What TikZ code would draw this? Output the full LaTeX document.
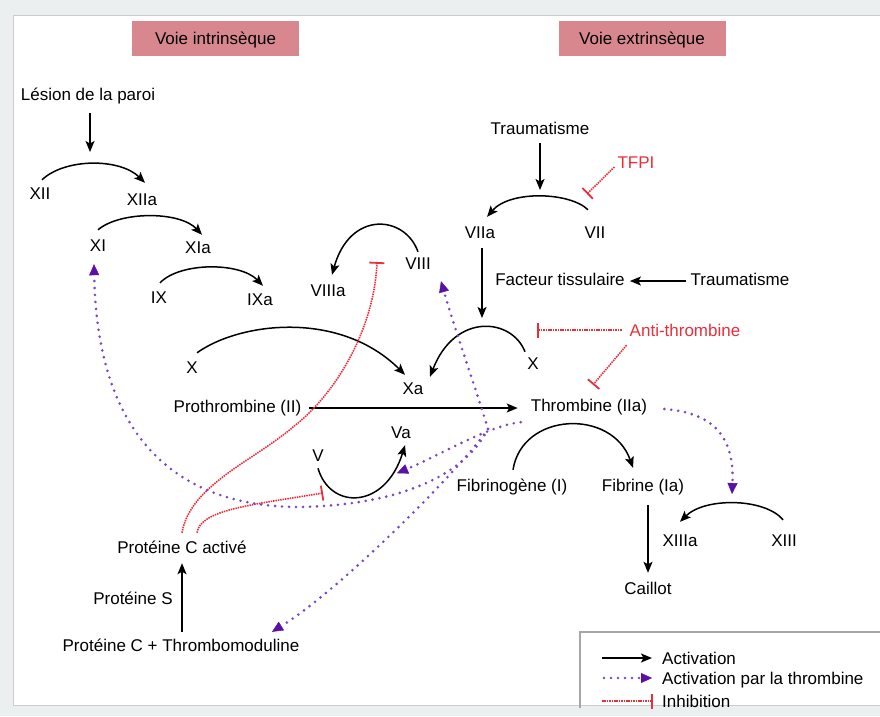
\documentclass[tikz,border=0pt]{standalone}
\usepackage{fontspec}
\setmainfont{Liberation Sans}
\usetikzlibrary{arrows.meta}
\definecolor{pinkbox}{RGB}{216,135,143}
\definecolor{inhred}{RGB}{232,48,58}
\definecolor{thrpur}{RGB}{120,70,200}
\definecolor{thrhead}{RGB}{90,15,165}
\definecolor{framebg}{RGB}{236,239,239}
\begin{document}
\begin{tikzpicture}[x=1pt,y=-1pt,
  lbl/.style={font=\fontsize{17}{20}\selectfont, inner sep=0pt, text height=13pt, text depth=1pt},
  redlbl/.style={lbl, text=inhred},
  titlebox/.style={lbl, fill=pinkbox, minimum width=167pt, minimum height=35pt},
  act/.style={line width=1.5pt, -{Stealth[length=11pt,width=9pt,inset=2.5pt]}},
  thr/.style={thrpur, line width=2.9pt, line cap=round, dash pattern=on 0pt off 7pt,
    -{Triangle[length=11pt,width=10pt,line width=0.4pt,color=thrhead]}},
  inh/.style={inhred, line width=1.6pt, dash pattern=on 1.5pt off 0.9pt,
    -{Bar[width=15pt,line width=1.8pt]}}]
\useasboundingbox (0,0) rectangle (880,716);
\fill[framebg] (0,0) rectangle (880,716);
\filldraw[fill=white, draw=gray!40, line width=0.8pt] (13,15) rectangle (886,705);

% titles
\node[titlebox] (vi) at (215.5,38.5) {Voie intrinsèque};
\node[titlebox] (ve) at (642,38.5) {Voie extrinsèque};

% intrinsic
\node[lbl] (lesion) at (88,94) {Lésion de la paroi};
\node[lbl] (xii) at (40,193) {XII};
\node[lbl] (xiia) at (142,199) {XIIa};
\node[lbl] (xi) at (98,245) {XI};
\node[lbl] (xia) at (198,247) {XIa};
\node[lbl] (ix) at (159,297) {IX};
\node[lbl] (ixa) at (260,299) {IXa};
\node[lbl] (viiia) at (328,290) {VIIIa};
\node[lbl] (viii) at (418,263) {VIII};
\node[lbl] (x1) at (192,367) {X};
\node[lbl] (xa) at (413,388) {Xa};
\node[lbl] (proth) at (237.5,406) {Prothrombine (II)};
\node[lbl] (thromb) at (589,405) {Thrombine (IIa)};
\node[lbl] (va) at (401,432) {Va};
\node[lbl] (v) at (318,455) {V};

% extrinsic
\node[lbl] (trauma1) at (540,128) {Traumatisme};
\node[redlbl] (tfpi) at (636,162) {TFPI};
\node[lbl] (viia) at (480,232) {VIIa};
\node[lbl] (vii) at (595,232) {VII};
\node[lbl] (facteur) at (560,279) {Facteur tissulaire};
\node[lbl] (trauma2) at (740,279) {Traumatisme};
\node[lbl] (x2) at (533,363) {X};
\node[redlbl] (anti) at (685,330) {Anti-thrombine};

% fibrin
\node[lbl] (fibrinogene) at (512,485) {Fibrinogène (I)};
\node[lbl] (fibrine) at (643,485) {Fibrine (Ia)};
\node[lbl] (xiiia) at (680,540) {XIIIa};
\node[lbl] (xiii) at (784,540) {XIII};
\node[lbl] (caillot) at (648,588) {Caillot};

% protein C
\node[lbl] (pca) at (182,547) {Protéine C activé};
\node[lbl] (ps) at (133,598) {Protéine S};
\node[lbl] (pctm) at (181,645) {Protéine C + Thrombomoduline};

% helper coordinates
\coordinate (p12) at (90,152);
\coordinate (kx2) at (482,318);
\coordinate (k7) at (540,190);
\coordinate (kb7) at (587,194);
\coordinate (kbx) at (537,330);
\coordinate (kb8) at (377,262);
\coordinate (kbv) at (323,493);
\coordinate (o1) at (488,429);
\coordinate (k13) at (732,494);

% black activations
\draw[act] ([shift={(2,12)}]lesion.south) -- (p12);
\draw[act] ([shift={(2,-6)}]xii.north) .. controls (65,158) and (120,158) .. ([shift={(3,-9)}]xiia.north);
\draw[act] ([shift={(0,-8)}]xi.north) .. controls (120,211) and (180,211) .. ([shift={(4,-5)}]xia.north);
\draw[act] ([shift={(1,-7)}]ix.north) .. controls (180,262) and (240,262) .. ([shift={(3,-6)}]ixa.north);
\draw[act] ([shift={(5,-7)}]x1.north) .. controls (240,322) and (340,310) .. ([shift={(-8,-6)}]xa.north);
\draw[act] ([shift={(0,-4)}]viii.north) .. controls (405,215) and (350,210) .. ([shift={(4,-8)}]viiia.north);
\draw[act] ([shift={(2,9)}]viia.south) -- (kx2);
\draw[act] ([shift={(-8,-4)}]x2.north) .. controls (512,318) and (455,312) .. ([shift={(17,-4)}]xa.north);
\draw[act] ([shift={(0,8)}]trauma1.south) -- (k7);
\draw[act] ([shift={(-7,-15)}]vii.north) .. controls (570,192) and (510,190) .. ([shift={(7,-8)}]viia.north);
\draw[act] ([shift={(-5,2)}]trauma2.west) -- ([shift={(5,2)}]facteur.east);
\draw[act] ([shift={(8,2)}]proth.east) -- ([shift={(-13,3)}]thromb.west);
\draw[act] ([shift={(1,-8)}]fibrinogene.north) .. controls (522,412) and (612,408) .. ([shift={(-10,-10)}]fibrine.north);
\draw[act] ([shift={(5,13)}]fibrine.south) -- ([shift={(0,-8)}]caillot.north);
\draw[act] ([shift={(-1,-13)}]xiii.north) .. controls (765,498) and (705,497) .. ([shift={(0,-11)}]xiiia.north);
\draw[act] ([shift={(0,6)}]v.south) .. controls (330,510) and (385,510) .. ([shift={(4,6)}]va.south);
\draw[act] ([shift={(1,-6)}]pctm.north) -- ([shift={(0,9)}]pca.south);

% inhibitions
\draw[inh] ([shift={(-3,5)}]tfpi.west) -- (kb7);
\draw[inh] ([shift={(-8,0)}]anti.west) -- (kbx);
\draw[inh] ([shift={(-3,8)}]anti.south west) -- ([shift={(4,-13)}]thromb.north);
\draw[inh] ([shift={(0,-7)}]pca.north) .. controls (190,485) and (255,460) .. (293,427)
  .. controls (335,395) and (374,330) .. (kb8);
\draw[inh] ([shift={(15,-7)}]pca.north) .. controls (200,510) and (250,505) .. (kbv);

% thrombin activations
\draw[thr] (o1) .. controls (478,395) and (455,330) .. ([shift={(23,11)}]viii.south);
\draw[thr] (o1) .. controls (460,470) and (340,590) .. ([shift={(91,-6)}]pctm.north);
\draw[thr] ([shift={(-10,10)}]thromb.south west) .. controls (490,425) and (440,455) .. ([shift={(-4,34)}]va.south);
\draw[thr] (o1) .. controls (465,475) and (400,505) .. (300,507)
  .. controls (170,507) and (97,430) .. ([shift={(-4,12)}]xi.south);
\draw[thr] ([shift={(17,4)}]thromb.east) .. controls (700,412) and (735,425) .. (k13);

% legend
\draw[gray!70, line width=1.2pt] (580,708) -- (580,632) -- (886,632);
\node[lbl, anchor=west] (lg1) at (662,658) {Activation};
\node[lbl, anchor=west] (lg2) at (662,678) {Activation par la thrombine};
\node[lbl, anchor=west] (lg3) at (662,701) {Inhibition};
\draw[act] ([shift={(-60,0)}]lg1.west) -- ([shift={(-10,0)}]lg1.west);
\draw[thr] ([shift={(-58,0)}]lg2.west) -- ([shift={(-10,0)}]lg2.west);
\draw[inh] ([shift={(-60,0)}]lg3.west) -- ([shift={(-9,0)}]lg3.west);
\end{tikzpicture}
\end{document}
